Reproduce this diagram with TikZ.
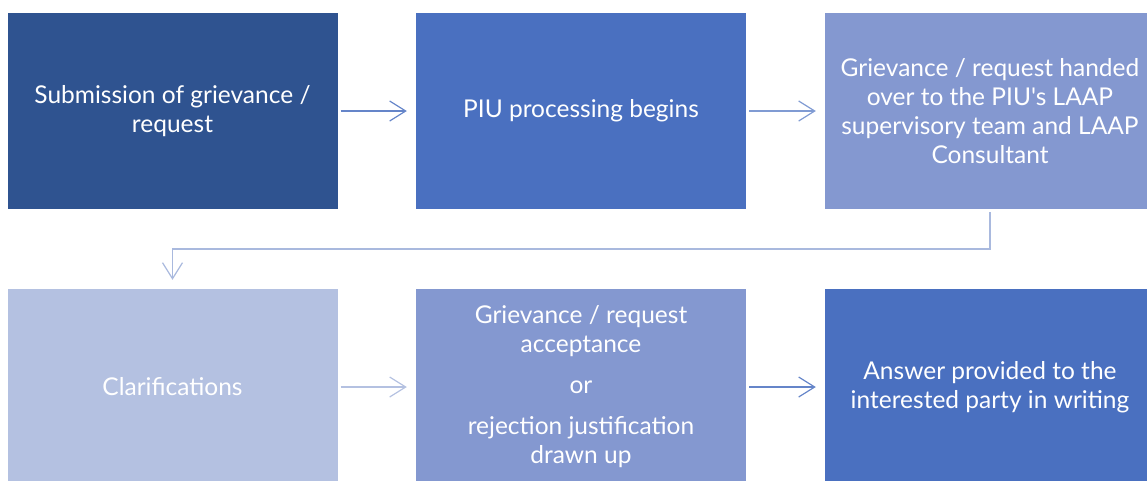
\documentclass[tikz,border=0pt]{standalone}
\usepackage{fontspec}
\newfontfamily\boxfont{Lato}
\usetikzlibrary{arrows.meta}
\definecolor{stepdark}{HTML}{2F5390}
\definecolor{stepmid}{HTML}{4A70C0}
\definecolor{steplight}{HTML}{8498D0}
\definecolor{steppale}{HTML}{B4C1E1}
\tikzset{
  stepbox/.style={rectangle, minimum width=330pt, minimum height=196pt,
    inner sep=0pt, text=white, align=center,
    font=\boxfont\fontsize{24.5pt}{29pt}\selectfont},
  flow/.style={line width=1.2pt, shorten <=3pt, shorten >=9pt,
    -{Straight Barb[length=16pt,width=20pt,line width=1.2pt]}},
}
\begin{document}
\begin{tikzpicture}[x=1pt,y=-1pt]
  \useasboundingbox (0,0) rectangle (1147,480);
  \clip (0,0) rectangle (1147,480);
  % upper row
  \node[stepbox, fill=stepdark] (b1) at (172.5,111)
    {Submission of grievance /\\request};
  \node[stepbox, fill=stepmid] (b2) at (581,111)
    {PIU processing begins};
  \node[stepbox, fill=steplight] (b3) at (990,111)
    {Grievance / request handed\\over to the PIU's LAAP\\supervisory team and LAAP\\Consultant};
  % lower row
  \node[stepbox, fill=steppale] (b4) at (172.5,387)
    {Clarifications};
  \node[stepbox, fill=steplight] (b5) at (581,387)
    {Grievance / request\\acceptance\\[12pt]or\\[12pt]rejection justification\\drawn up};
  \node[stepbox, fill=stepmid] (b6) at (990,387)
    {Answer provided to the\\interested party in writing};
  % connectors
  \coordinate (elbow) at (0,249);
  \draw[flow, draw=stepmid!85] (b1.east) -- (b2.west);
  \draw[flow, draw=stepmid!70!white] (b2.east) -- (b3.west);
  \draw[flow, draw=steppale!90!stepmid] (b3.south) -- (b3.south |- elbow) -| (b4.north);
  \draw[flow, draw=steppale] (b4.east) -- (b5.west);
  \draw[flow, draw=stepmid!85] (b5.east) -- (b6.west);
\end{tikzpicture}
\end{document}
